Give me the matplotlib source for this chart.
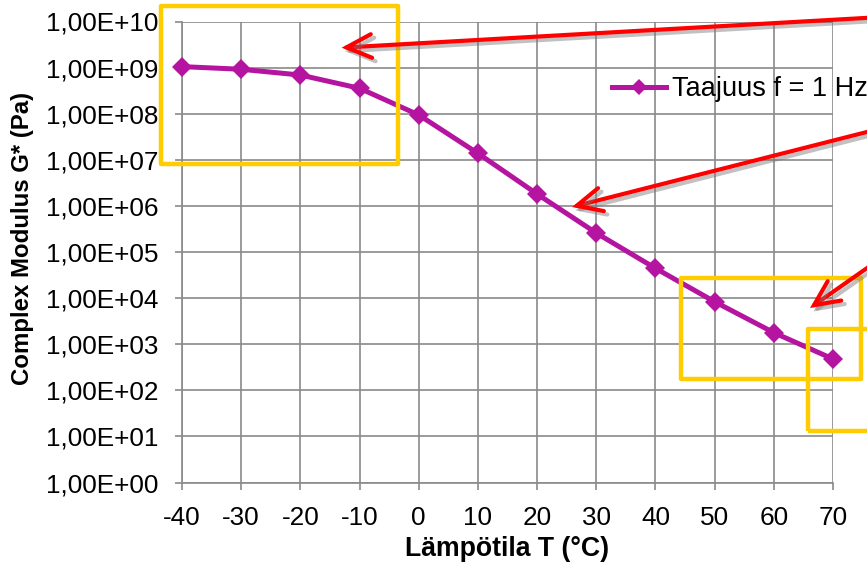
import matplotlib
matplotlib.use("Agg")
import matplotlib.pyplot as plt
import matplotlib.patheffects as pe
from matplotlib.patches import FancyArrowPatch, Rectangle
from matplotlib.ticker import FixedLocator, FixedFormatter, NullLocator

# ---- data ----
temperatures = [-40, -30, -20, -10, 0, 10, 20, 30, 40, 50, 60, 70]
modulus = [1.05e9, 9.2e8, 6.9e8, 3.56e8, 9.4e7, 1.38e7, 1.81e6, 2.58e5,
           4.43e4, 8.35e3, 1.78e3, 4.78e2]
series_label = "Taajuus f = 1 Hz"
x_ticks = [-40, -30, -20, -10, 0, 10, 20, 30, 40, 50, 60, 70]
x_tick_labels = ["-40", "-30", "-20", "-10", "0", "10", "20", "30", "40", "50", "60", "70"]
y_exponents = list(range(0, 11))
y_tick_labels = ["1,00E+%02d" % e for e in y_exponents]
x_label = "Lämpötila T (°C)"
y_label = "Complex Modulus G* (Pa)"

plt.rcParams['font.family'] = ['Liberation Sans', 'DejaVu Sans']

W, H = 867, 570
fig = plt.figure(figsize=(W / 100, H / 100), dpi=100)
ax = fig.add_axes([182 / W, 1 - 482.5 / H, (833 - 182) / W, (482.5 - 21.5) / H])

line_color = '#B4149F'
grid_color = '#8A8A8A'

ax.plot(temperatures, modulus, color=line_color, lw=3.6, marker='D',
        markersize=10, markeredgewidth=0, label=series_label, zorder=3,
        clip_on=False)

ax.set_yscale('log')
ax.set_xlim(-40, 70)
ax.set_ylim(1, 1e10)
ax.xaxis.set_major_locator(FixedLocator(x_ticks))
ax.xaxis.set_major_formatter(FixedFormatter(x_tick_labels))
ax.yaxis.set_major_locator(FixedLocator([10.0 ** e for e in y_exponents]))
ax.yaxis.set_major_formatter(FixedFormatter(y_tick_labels))
ax.yaxis.set_minor_locator(NullLocator())
ax.xaxis.set_minor_locator(NullLocator())

ax.grid(True, which='major', color=grid_color, lw=1.2)
ax.set_axisbelow(True)
for s in ['top', 'right']:
    ax.spines[s].set_visible(False)
for s in ['left', 'bottom']:
    ax.spines[s].set_color(grid_color)
    ax.spines[s].set_linewidth(1.2)
ax.tick_params(axis='both', direction='out', length=5, width=1.2, color=grid_color,
               labelsize=18.8, labelcolor='black')
ax.tick_params(axis='y', pad=12)
ax.tick_params(axis='x', pad=12)

ax.set_xlabel(x_label, fontsize=19.2, fontweight='bold')
ax.set_ylabel(y_label, fontsize=17.3, fontweight='bold')
ax.xaxis.set_label_coords(0.5, (482.5 - 549) / 461, transform=ax.transAxes)
ax.yaxis.set_label_coords((22 - 182) / 651, (482.5 - 238) / 461, transform=ax.transAxes)
ax.xaxis.label.set_va('center')
ax.yaxis.label.set_va('center')

leg = ax.legend(loc='center left', bbox_to_anchor=(612 / W, 1 - 89 / H),
                bbox_transform=fig.transFigure, frameon=False, fontsize=19.5,
                handlelength=2.0, handletextpad=0.2, borderpad=0, borderaxespad=0,
                markerscale=0.85)


def fx(px):
    return px / W


def fy(py):
    return 1 - py / H


# yellow highlight boxes (pixel coords)
boxes = [(161, 6, 398, 164), (681, 278, 861, 379), (808, 329, 900, 431)]
for x0, y0, x1, y1 in boxes:
    r = Rectangle((fx(x0), fy(y1)), fx(x1) - fx(x0), fy(y0) - fy(y1),
                  transform=fig.transFigure, fill=False, edgecolor='#FFCC00',
                  lw=3.2, joinstyle='round', zorder=5)
    fig.add_artist(r)

# red arrows (pixel coords: start, tip)
arrows = [((900, 16), (341.6, 47.7)), ((900, 123.6), (572, 207)), ((900, 245), (810, 308))]
for (sx, sy), (tx, ty) in arrows:
    a = FancyArrowPatch((fx(sx), fy(sy)), (fx(tx), fy(ty)), transform=fig.transFigure,
                        arrowstyle='->,head_length=1.8,head_width=0.85',
                        mutation_scale=10, color='#FF0000', lw=3.0,
                        shrinkA=0, shrinkB=0, capstyle='round', joinstyle='miter',
                        zorder=6)
    a.set_path_effects([pe.SimpleLineShadow(offset=(2.5, -2.5), shadow_color='#777777',
                                            alpha=0.45), pe.Normal()])
    fig.add_artist(a)

fig.savefig('out.png', dpi=100)
